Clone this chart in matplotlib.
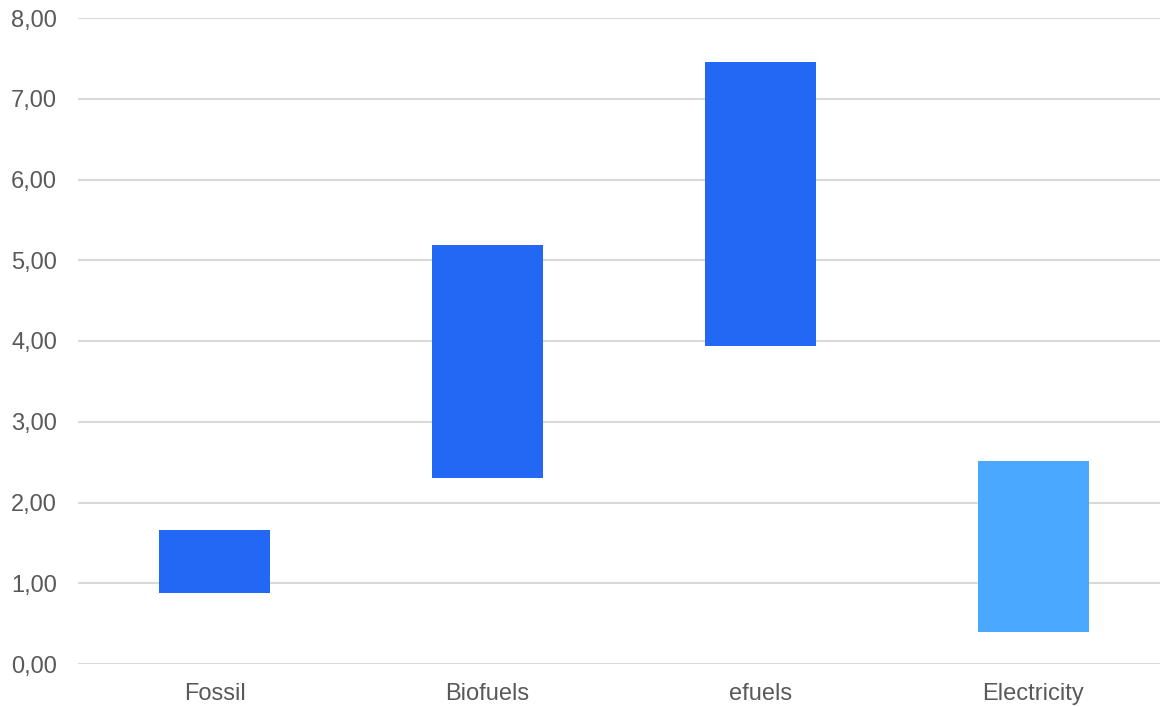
import matplotlib
matplotlib.use("Agg")
import matplotlib.pyplot as plt
from matplotlib.ticker import FuncFormatter

categories = ["Fossil", "Biofuels", "efuels", "Electricity"]
low = [0.88, 2.30, 3.94, 0.40]
high = [1.66, 5.19, 7.455, 2.51]
colors = ["#2368F5", "#2368F5", "#2368F5", "#4BA8FF"]
yticks = [0, 1, 2, 3, 4, 5, 6, 7, 8]

plt.rcParams["font.family"] = ["Liberation Sans", "DejaVu Sans"]

fig = plt.figure(figsize=(11.6, 7.07), dpi=100)
ax = fig.add_axes([78 / 1160, 1 - 664 / 707, 1092 / 1160, 646 / 707])

x = range(len(categories))
heights = [h - l for h, l in zip(high, low)]
ax.bar(x, heights, bottom=low, width=0.403, color=colors, zorder=3)

ax.set_xlim(-0.5, 3.5)
ax.set_ylim(0, 8)
ax.set_yticks(yticks)
ax.yaxis.set_major_formatter(FuncFormatter(lambda v, p: f"{v:.2f}".replace(".", ",")))
ax.set_xticks(list(x))
ax.set_xticklabels(categories)

ax.grid(axis="y", color="#d9d9d9", linewidth=1.5, zorder=0)
for s in ax.spines.values():
    s.set_visible(False)
ax.tick_params(axis="both", length=0, labelsize=17, colors="#595959")
ax.tick_params(axis="y", pad=15)
ax.tick_params(axis="x", pad=14)

fig.savefig("out.png", dpi=100)
